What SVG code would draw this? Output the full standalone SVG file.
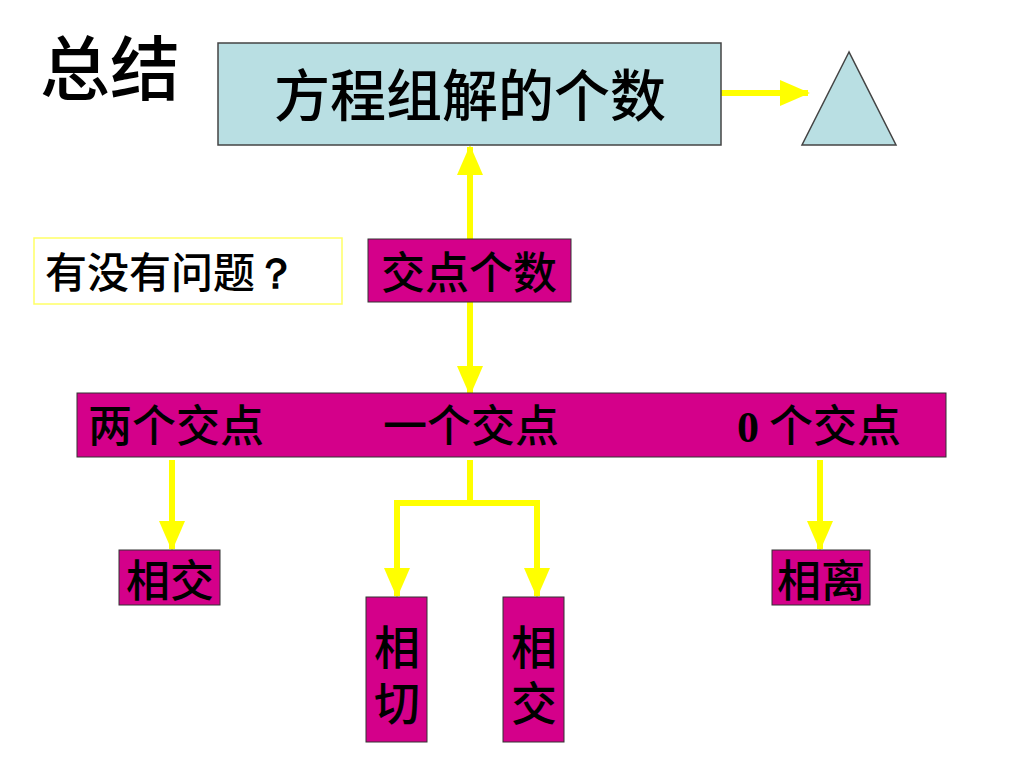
<svg xmlns="http://www.w3.org/2000/svg" width="1024" height="768" viewBox="0 0 1024 768">
<style>
.t{font-family:"Noto Sans CJK SC","Noto Sans CJK JP",sans-serif;fill:#000;font-weight:500;}
.v{writing-mode:vertical-rl;letter-spacing:10px;}
.mag{fill:#d4008a;stroke:#333;stroke-width:1;}
.blue{fill:#b9dfe3;stroke:#444;stroke-width:1.5;}
.con{stroke:#ffff00;stroke-width:6;fill:none;}
.num{font-family:"Liberation Serif",serif;font-weight:bold;}
</style>
<defs>
<marker id="ah" markerUnits="userSpaceOnUse" markerWidth="30" markerHeight="26" refX="28" refY="13" orient="auto">
<path d="M0,0 L30,13 L0,26 Z" fill="#ffff00"/>
</marker>
</defs>
<rect width="1024" height="768" fill="#fff"/>
<text class="t" x="40" y="95" font-size="70">总结</text>
<g id="connectors">
<line class="con" x1="721" y1="93" x2="808" y2="93" marker-end="url(#ah)"/>
<line class="con" x1="470" y1="239" x2="470" y2="147" marker-end="url(#ah)"/>
<line class="con" x1="470" y1="302" x2="470" y2="394" marker-end="url(#ah)"/>
<line class="con" x1="172" y1="460" x2="172" y2="549" marker-end="url(#ah)"/>
<line class="con" x1="820" y1="460" x2="820" y2="549" marker-end="url(#ah)"/>
<polyline class="con" points="470,460 470,503 397,503 397,596" marker-end="url(#ah)"/>
<polyline class="con" points="470,503 537,503 537,596" marker-end="url(#ah)"/>
</g>
<g id="main">
<rect class="blue" x="218" y="43" width="503" height="102"/>
<text class="t" x="470" y="116" font-size="56" text-anchor="middle">方程组解的个数</text>
</g>
<g id="triangle">
<polygon class="blue" points="849,52 802,145 896,145"/>
</g>
<g id="question">
<rect x="34" y="238" width="308" height="66" fill="#fff" stroke="#ffff66" stroke-width="1.5"/>
<text class="t" x="45" y="288" font-size="42">有没有问题<tspan class="num">？</tspan></text>
</g>
<g id="jiaodian">
<rect class="mag" x="368" y="239" width="203" height="63" stroke="none"/>
<text class="t" x="469" y="289" font-size="44" text-anchor="middle">交点个数</text>
</g>
<g id="bar">
<rect class="mag" x="77" y="393" width="869" height="64" stroke="none"/>
<text class="t" x="88" y="442" font-size="44">两个交点</text>
<text class="t" x="383" y="442" font-size="44">一个交点</text>
<text class="t" x="737" y="442" font-size="44"><tspan class="num">0</tspan> 个交点</text>
</g>
<g id="xiangjiao1">
<rect class="mag" x="119" y="550" width="101" height="55"/>
<text class="t" x="170" y="597" font-size="44" text-anchor="middle">相交</text>
</g>
<g id="xiangqie">
<rect class="mag" x="366" y="597" width="61" height="145"/>
<text class="t v" x="397" y="624" font-size="46">相切</text>
</g>
<g id="xiangjiao2">
<rect class="mag" x="503" y="597" width="61" height="145"/>
<text class="t v" x="534" y="624" font-size="46">相交</text>
</g>
<g id="xiangli">
<rect class="mag" x="772" y="550" width="98" height="55"/>
<text class="t" x="821" y="597" font-size="44" text-anchor="middle">相离</text>
</g>
</svg>
